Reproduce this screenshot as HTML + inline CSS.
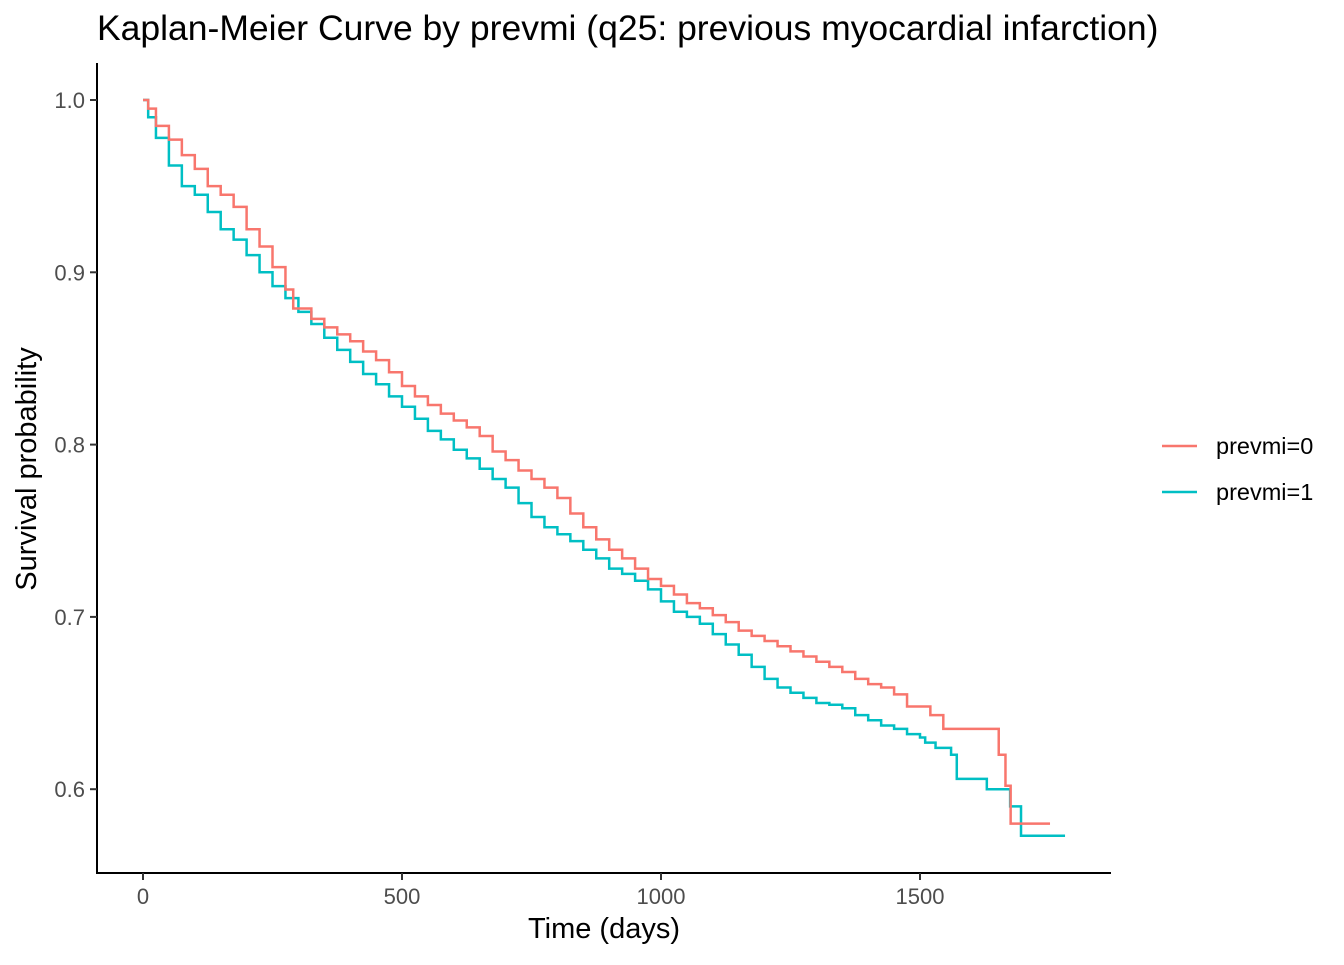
<!DOCTYPE html>
<html><head><meta charset="utf-8">
<style>body{margin:0;background:#fff}svg text{font-family:"Liberation Sans",sans-serif}</style>
</head><body>
<svg width="1344" height="960" xmlns="http://www.w3.org/2000/svg">
<text x="97" y="40" font-size="35.5" fill="#000">Kaplan-Meier Curve by prevmi (q25: previous myocardial infarction)</text>
<g id="axes"></g>
<g id="series"></g>
<text x="604" y="938" font-size="29" text-anchor="middle">Time (days)</text>
<text transform="translate(36,469) rotate(-90)" font-size="29" text-anchor="middle">Survival probability</text>
<g>
<line x1="1162" x2="1197" y1="446" y2="446" stroke="#F8766D" stroke-width="2.5"/>
<text x="1216" y="454" font-size="23.5">prevmi=0</text>
<line x1="1162" x2="1197" y1="492" y2="492" stroke="#00BFC4" stroke-width="2.5"/>
<text x="1216" y="500" font-size="23.5">prevmi=1</text>
</g>
</svg>
<script>
const xTicks=[0,500,1000,1500];
const yTicks=[0.6,0.7,0.8,0.9,1.0];
const yTickLabels=["0.6","0.7","0.8","0.9","1.0"];
const t0=[0,10,25,50,75,100,125,150,175,200,225,250,275,290,325,350,375,400,425,450,475,500,525,550,575,600,625,650,675,700,725,750,775,800,825,850,875,900,925,950,975,1000,1025,1050,1075,1100,1125,1150,1175,1200,1225,1250,1275,1300,1325,1350,1375,1400,1425,1450,1475,1520,1545,1652,1665,1675,1751];
const s0=[1.0,0.995,0.985,0.977,0.968,0.96,0.95,0.945,0.938,0.925,0.915,0.903,0.89,0.879,0.873,0.868,0.864,0.86,0.854,0.849,0.842,0.834,0.828,0.823,0.818,0.814,0.81,0.805,0.796,0.791,0.785,0.78,0.775,0.769,0.76,0.752,0.745,0.739,0.734,0.728,0.722,0.718,0.713,0.708,0.705,0.701,0.697,0.692,0.689,0.686,0.683,0.68,0.677,0.674,0.671,0.668,0.664,0.661,0.659,0.655,0.648,0.643,0.635,0.62,0.602,0.58,0.58];
const t1=[0,10,25,50,75,100,125,150,175,200,225,250,275,300,325,350,375,400,425,450,475,500,525,550,575,600,625,650,675,700,725,750,775,800,825,850,875,900,925,950,975,1000,1025,1050,1075,1100,1125,1150,1175,1200,1225,1250,1275,1300,1325,1350,1375,1400,1425,1450,1475,1500,1510,1530,1560,1571,1629,1674,1695,1780];
const s1=[1.0,0.99,0.978,0.962,0.95,0.945,0.935,0.925,0.919,0.91,0.9,0.892,0.885,0.877,0.87,0.862,0.855,0.848,0.841,0.835,0.828,0.822,0.815,0.808,0.803,0.797,0.792,0.786,0.78,0.775,0.766,0.758,0.752,0.748,0.744,0.739,0.734,0.728,0.725,0.721,0.716,0.709,0.703,0.7,0.696,0.69,0.684,0.678,0.671,0.664,0.659,0.656,0.653,0.65,0.649,0.647,0.643,0.64,0.637,0.635,0.632,0.63,0.627,0.624,0.62,0.606,0.6,0.59,0.573,0.573];
const X=d=>143+d*0.518, Y=s=>100+(1-s)*1723;
const NS="http://www.w3.org/2000/svg";
function mk(tag,attrs,parent){const e=document.createElementNS(NS,tag);for(const k in attrs)e.setAttribute(k,attrs[k]);parent.appendChild(e);return e;}
const ax=document.getElementById('axes');
let l=mk('line',{x1:97,x2:97,y1:63,y2:874,stroke:'#000','stroke-width':2},ax);


l=mk('line',{x1:96,x2:1111,y1:873,y2:873,stroke:'#000','stroke-width':2},ax);


xTicks.forEach(v=>{
 const t=mk('line',{x1:X(v),x2:X(v),y1:873,y2:880,stroke:'#333','stroke-width':2},ax);
 
 
 const tx=mk('text',{x:X(v),y:904,'font-size':22,'text-anchor':'middle',fill:'#4d4d4d'},ax);
 tx.textContent=v;
 
 
});
yTicks.forEach((v,i)=>{
 const t=mk('line',{x1:90,x2:97,y1:Y(v),y2:Y(v),stroke:'#333','stroke-width':2},ax);
 
 
 const tx=mk('text',{x:85,y:Y(v)+8,'font-size':22,'text-anchor':'end',fill:'#4d4d4d'},ax);
 tx.textContent=yTickLabels[i];
 
 
});
function step(t,s){let d='M'+X(t[0])+','+Y(s[0]);for(let i=1;i<t.length;i++){d+=' H'+X(t[i])+' V'+Y(s[i]);}return d;}
const sg=document.getElementById('series');
let p=mk('path',{d:step(t1,s1),fill:'none',stroke:'#00BFC4','stroke-width':2.5},sg);


p=mk('path',{d:step(t0,s0),fill:'none',stroke:'#F8766D','stroke-width':2.5},sg);


</script>
</body></html>
